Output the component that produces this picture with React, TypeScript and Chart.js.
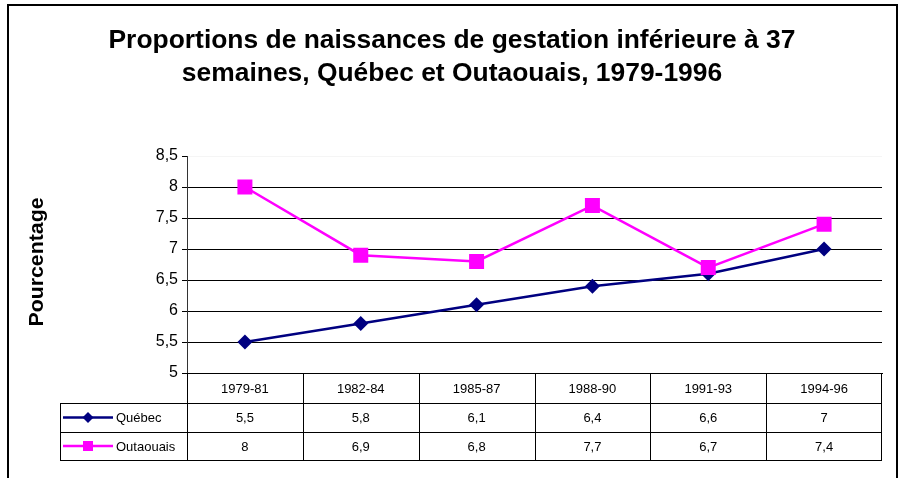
import React, { useEffect, useRef } from 'react';
import { Chart, registerables } from 'chart.js';

Chart.register(...registerables);

const categories = ['1979-81', '1982-84', '1985-87', '1988-90', '1991-93', '1994-96'];
const quebec = [5.5, 5.8, 6.1, 6.4, 6.6, 7];
const outaouais = [8, 6.9, 6.8, 7.7, 6.7, 7.4];
const seriesNames = ['Québec', 'Outaouais'];
const titleLines = [
  'Proportions de naissances de gestation inférieure à 37',
  'semaines, Québec et Outaouais, 1979-1996',
];
const yTitle = 'Pourcentage';
const yMin = 5;
const yMax = 8.5;
const yStep = 0.5;

const FONT = '"Liberation Sans", Arial, sans-serif';
const NAVY = '#000080';
const MAGENTA = '#FF00FF';

const fmt = (v: number) => String(v).replace('.', ',');

function drawMarker(ctx: CanvasRenderingContext2D, kind: string, x: number, y: number, r: number, color: string) {
  ctx.fillStyle = color;
  ctx.beginPath();
  if (kind === 'rectRot') {
    ctx.moveTo(x - r, y);
    ctx.lineTo(x, y - r);
    ctx.lineTo(x + r, y);
    ctx.lineTo(x, y + r);
    ctx.closePath();
  } else {
    ctx.rect(x - r, y - r, 2 * r, 2 * r);
  }
  ctx.fill();
}

const decor = {
  id: 'excelDecor',
  afterDraw(chart: any) {
    const ctx: CanvasRenderingContext2D = chart.ctx;
    const { left, right, bottom } = chart.chartArea;
    const xs = chart.scales.x;
    ctx.save();

    // outer frame
    ctx.strokeStyle = '#000';
    ctx.lineWidth = 2;
    ctx.strokeRect(8, 5, 889, 520);

    // title
    ctx.fillStyle = '#000';
    ctx.textAlign = 'center';
    ctx.textBaseline = 'alphabetic';
    ctx.font = `bold 25px ${FONT}`;
    const w0 = ctx.measureText(titleLines[0]).width;
    const sx = 687 / w0;
    [48, 81].forEach((by, i) => {
      ctx.save();
      ctx.translate(452, by);
      ctx.scale(sx, 1);
      ctx.fillText(titleLines[i], 0, 0);
      ctx.restore();
    });

    // y axis title
    ctx.save();
    ctx.translate(37, 262);
    ctx.rotate(-Math.PI / 2);
    ctx.font = `bold 20px ${FONT}`;
    ctx.textAlign = 'center';
    ctx.textBaseline = 'middle';
    const wy = ctx.measureText(yTitle).width;
    ctx.scale(129 / wy, 1);
    ctx.fillText(yTitle, 0, 0);
    ctx.restore();

    // data table
    const n = categories.length;
    const colW = (right - left) / n;
    const rows = [bottom, bottom + 30, bottom + 59, bottom + 87];
    const legL = 60;
    ctx.strokeStyle = '#000';
    ctx.lineWidth = 1;
    ctx.beginPath();
    for (let r = 1; r < rows.length; r++) {
      ctx.moveTo(legL, Math.round(rows[r]) + 0.5);
      ctx.lineTo(right, Math.round(rows[r]) + 0.5);
    }
    for (let i = 0; i < n; i++) {
      const px = Math.round(xs.getPixelForValue(i) - colW / 2) + 0.5;
      ctx.moveTo(px, rows[0]);
      ctx.lineTo(px, rows[3]);
    }
    const pr = Math.round(xs.getPixelForValue(n - 1) + colW / 2) - 0.5;
    ctx.moveTo(pr, rows[0]);
    ctx.lineTo(pr, rows[3]);
    ctx.moveTo(legL + 0.5, rows[1]);
    ctx.lineTo(legL + 0.5, rows[3]);
    ctx.stroke();

    ctx.fillStyle = '#000';
    ctx.font = `13px ${FONT}`;
    ctx.textAlign = 'center';
    ctx.textBaseline = 'middle';
    const seriesVals = [quebec, outaouais];
    for (let i = 0; i < n; i++) {
      const cx = xs.getPixelForValue(i);
      ctx.fillText(categories[i], cx, (rows[0] + rows[1]) / 2 + 1);
      ctx.fillText(fmt(seriesVals[0][i]), cx, (rows[1] + rows[2]) / 2 + 1);
      ctx.fillText(fmt(seriesVals[1][i]), cx, (rows[2] + rows[3]) / 2 + 1);
    }

    // legend keys
    const keys = [
      { color: NAVY, kind: 'rectRot', r: 5.5 },
      { color: MAGENTA, kind: 'rect', r: 5 },
    ];
    keys.forEach((k, j) => {
      const cy = (rows[j + 1] + rows[j + 2]) / 2;
      ctx.strokeStyle = k.color;
      ctx.lineWidth = 2.5;
      ctx.beginPath();
      ctx.moveTo(63, cy);
      ctx.lineTo(113, cy);
      ctx.stroke();
      drawMarker(ctx, k.kind, 88, cy, k.r, k.color);
      ctx.fillStyle = '#000';
      ctx.textAlign = 'left';
      ctx.fillText(seriesNames[j], 116, cy + 1);
    });

    ctx.restore();
  },
};

export default function App() {
  const ref = useRef<HTMLCanvasElement | null>(null);

  useEffect(() => {
    document.body.style.margin = '0';
    const canvas = ref.current;
    if (!canvas) return;
    const chart = new Chart(canvas, {
      type: 'line',
      data: {
        labels: categories,
        datasets: [
          {
            label: seriesNames[0],
            data: quebec,
            borderColor: NAVY,
            backgroundColor: NAVY,
            borderWidth: 2.5,
            pointStyle: 'rectRot',
            pointRadius: 7.5,
            pointBorderWidth: 0,
            pointBackgroundColor: NAVY,
            pointBorderColor: NAVY,
            tension: 0,
            order: 1,
          },
          {
            label: seriesNames[1],
            data: outaouais,
            borderColor: MAGENTA,
            backgroundColor: MAGENTA,
            borderWidth: 2.5,
            pointStyle: 'rect',
            pointRadius: 10.6,
            pointBorderWidth: 0,
            pointBackgroundColor: MAGENTA,
            pointBorderColor: MAGENTA,
            tension: 0,
            order: 0,
          },
        ],
      },
      options: {
        responsive: false,
        animation: false,
        layout: { padding: { top: 156, right: 20, left: 0, bottom: 0 } },
        plugins: {
          legend: { display: false },
          title: { display: false },
          tooltip: { enabled: false },
        },
        scales: {
          x: {
            type: 'category',
            offset: true,
            grid: { display: false },
            border: { display: true, color: '#000', width: 1 },
            ticks: { display: false },
            afterFit: (s: any) => {
              s.height = 105;
            },
          },
          y: {
            min: yMin,
            max: yMax,
            ticks: {
              stepSize: yStep,
              callback: (v: any) => fmt(Number(v)),
              font: { family: FONT, size: 16 },
              color: '#000',
              padding: 4,
            },
            grid: {
              color: (c: any) => (c.tick && c.tick.value === yMax ? 'rgba(0,0,0,0.04)' : '#000'),
              tickColor: '#000',
              tickLength: 5,
              lineWidth: 1,
            },
            border: { display: true, color: '#333', width: 1 },
            afterFit: (s: any) => {
              s.width = 187;
            },
          },
        },
      } as any,
      plugins: [decor],
    });
    return () => chart.destroy();
  }, []);

  return (
    <div style={{ position: 'absolute', left: 0, top: 0, width: 902, height: 478, background: '#fff' }}>
      <canvas ref={ref} width={902} height={478} style={{ display: 'block' }} />
    </div>
  );
}
